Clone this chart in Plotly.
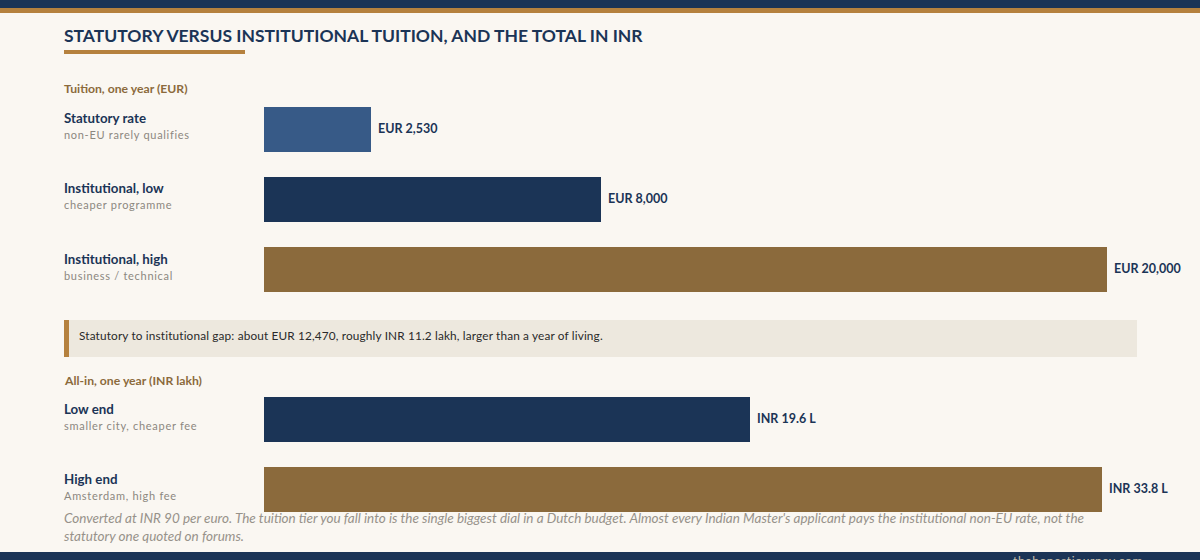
import plotly.graph_objects as go

W, H = 1200, 560

# ---- data ----
tuition_labels = ["Statutory rate", "Institutional, low", "Institutional, high"]
tuition_notes = ["non-EU rarely qualifies", "cheaper programme", "business / technical"]
tuition_eur = [2530, 8000, 20000]

allin_labels = ["Low end", "High end"]
allin_notes = ["smaller city, cheaper fee", "Amsterdam, high fee"]
allin_inr_lakh = [19.6, 33.8]

title = "STATUTORY VERSUS INSTITUTIONAL TUITION, AND THE TOTAL IN INR"
section1 = "Tuition, one year (EUR)"
section2 = "All-in, one year (INR lakh)"
callout = ("Statutory to institutional gap: about EUR 12,470, roughly INR 11.2 lakh, "
           "larger than a year of living.")
footnote = ("Converted at INR 90 per euro. The tuition tier you fall into is the single biggest dial "
            "in a Dutch budget. Almost every Indian Master's applicant pays the institutional non-EU rate, "
            "not the<br>statutory one quoted on forums.")
credit = "thehonestjourney.com"

# ---- styles ----
BG = "#faf7f2"
NAVY = "#1b3456"
BLUE = "#375a87"
GOLD = "#8b6a3c"
ACCENT = "#b5813e"
GREY = "#8c8780"
FONT = "Lato, 'Open Sans', sans-serif"
LX = 62  # left text column (px), compensates annotation padding

tuition_colors = [BLUE, NAVY, GOLD]
allin_colors = [NAVY, GOLD]


def px(x):
    return x / W


def py(y):
    return 1 - y / H


def spaced(t, s):
    return f"<span style='letter-spacing:{s}px'>{t}</span>"


fig = go.Figure()
fig.add_trace(go.Bar(
    x=tuition_eur, y=list(range(len(tuition_eur))), orientation="h",
    marker=dict(color=tuition_colors, line=dict(width=0)), width=45 / 70,
    xaxis="x", yaxis="y", hoverinfo="skip", showlegend=False))
fig.add_trace(go.Bar(
    x=allin_inr_lakh, y=list(range(len(allin_inr_lakh))), orientation="h",
    marker=dict(color=allin_colors, line=dict(width=0)), width=45 / 70,
    xaxis="x2", yaxis="y2", hoverinfo="skip", showlegend=False))

ann = []
ann.append(dict(text=f"<b>{title}</b>", x=px(LX), y=py(35), xref="paper", yref="paper",
                xanchor="left", yanchor="middle", showarrow=False,
                font=dict(family=FONT, size=17.5, color=NAVY)))
ann.append(dict(text=f"<b>{section1}</b>", x=px(LX), y=py(88), xref="paper", yref="paper",
                xanchor="left", yanchor="middle", showarrow=False,
                font=dict(family=FONT, size=12.2, color=GOLD)))
ann.append(dict(text=f"<b>{section2}</b>", x=px(LX), y=py(380), xref="paper", yref="paper",
                xanchor="left", yanchor="middle", showarrow=False,
                font=dict(family=FONT, size=12.2, color=GOLD)))
ann.append(dict(text=spaced(callout, 0.15), x=px(77), y=py(335), xref="paper", yref="paper",
                xanchor="left", yanchor="middle", showarrow=False,
                font=dict(family=FONT, size=11.8, color="#2a2a2a")))
ann.append(dict(text=f"<i>{footnote}</i>", x=px(LX), y=py(508), xref="paper", yref="paper",
                xanchor="left", yanchor="top", align="left", showarrow=False,
                font=dict(family=FONT, size=13.5, color="#97928a")))
ann.append(dict(text=spaced(credit, 0.6), x=px(1011), y=py(551), xref="paper", yref="paper",
                xanchor="left", yanchor="top", showarrow=False,
                font=dict(family=FONT, size=12, color="#c9c0ae")))

for yref, xref, labels, notes, vals, fmt in [
    ("y", "x", tuition_labels, tuition_notes, tuition_eur, lambda v: f"EUR {v:,}"),
    ("y2", "x2", allin_labels, allin_notes, allin_inr_lakh, lambda v: f"INR {v} L"),
]:
    for i, (lab, note, v) in enumerate(zip(labels, notes, vals)):
        ann.append(dict(text=f"<b>{lab}</b>", x=px(LX), y=i, xref="paper", yref=yref,
                        xanchor="left", yanchor="middle", yshift=10, showarrow=False,
                        font=dict(family=FONT, size=13.3, color=NAVY)))
        ann.append(dict(text=spaced(note, 0.7), x=px(LX), y=i, xref="paper", yref=yref,
                        xanchor="left", yanchor="middle", yshift=-6.5, showarrow=False,
                        font=dict(family=FONT, size=11, color=GREY)))
        ann.append(dict(text=f"<b>{fmt(v)}</b>", x=v, y=i, xref=xref, yref=yref,
                        xanchor="left", yanchor="middle", xshift=5, showarrow=False,
                        font=dict(family=FONT, size=12.5, color=NAVY)))

shapes = [
    dict(type="rect", xref="paper", yref="paper", x0=0, x1=1, y0=py(0), y1=py(8),
         fillcolor=NAVY, line=dict(width=0), layer="below"),
    dict(type="rect", xref="paper", yref="paper", x0=0, x1=1, y0=py(8), y1=py(13),
         fillcolor=ACCENT, line=dict(width=0), layer="below"),
    dict(type="rect", xref="paper", yref="paper", x0=px(64), x1=px(245), y0=py(50), y1=py(54),
         fillcolor=ACCENT, line=dict(width=0), layer="below"),
    dict(type="rect", xref="paper", yref="paper", x0=px(64), x1=px(1137), y0=py(320), y1=py(357),
         fillcolor="#ede8de", line=dict(width=0), layer="below"),
    dict(type="rect", xref="paper", yref="paper", x0=px(64), x1=px(69), y0=py(320), y1=py(357),
         fillcolor=ACCENT, line=dict(width=0), layer="below"),
    dict(type="rect", xref="paper", yref="paper", x0=0, x1=1, y0=py(552), y1=py(560),
         fillcolor=NAVY, line=dict(width=0), layer="below"),
]

hidden = dict(visible=False, showgrid=False, zeroline=False, fixedrange=True)
fig.update_layout(
    width=W, height=H, autosize=False,
    margin=dict(l=0, r=0, t=0, b=0),
    paper_bgcolor=BG, plot_bgcolor="rgba(0,0,0,0)",
    font=dict(family=FONT),
    bargap=0,
    xaxis=dict(domain=[px(264), px(1137)], range=[0, 20700], anchor="y", **hidden),
    yaxis=dict(domain=[py(303.5), py(93.5)], range=[2.5, -0.5], anchor="x", **hidden),
    xaxis2=dict(domain=[px(264), px(1137)], range=[0, 35.2], anchor="y2", **hidden),
    yaxis2=dict(domain=[py(523.5), py(383.5)], range=[1.5, -0.5], anchor="x2", **hidden),
    annotations=ann,
    shapes=shapes,
)

fig.write_html("out.html", config=dict(displayModeBar=False),
               post_script="document.body.style.margin='0';document.body.style.overflow='hidden';")
